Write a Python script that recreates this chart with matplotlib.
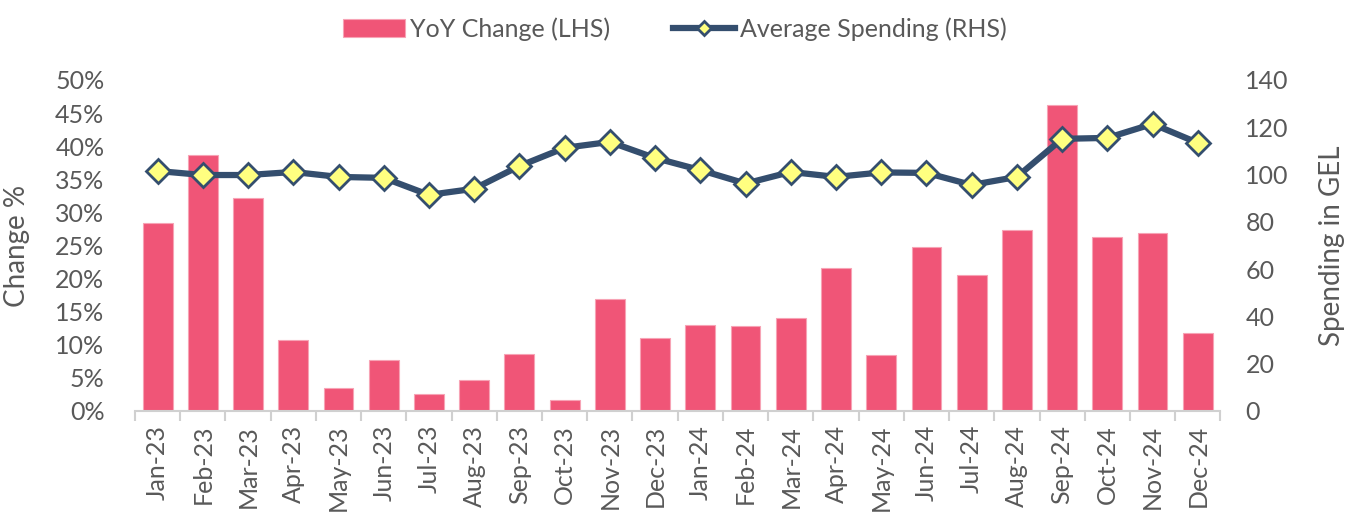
import matplotlib.pyplot as plt
import numpy as np
from matplotlib.ticker import FuncFormatter, MultipleLocator

months = ['Jan-23', 'Feb-23', 'Mar-23', 'Apr-23', 'May-23', 'Jun-23',
          'Jul-23', 'Aug-23', 'Sep-23', 'Oct-23', 'Nov-23', 'Dec-23',
          'Jan-24', 'Feb-24', 'Mar-24', 'Apr-24', 'May-24', 'Jun-24',
          'Jul-24', 'Aug-24', 'Sep-24', 'Oct-24', 'Nov-24', 'Dec-24']

yoy_change = [28.4, 38.7, 32.2, 10.7, 3.5, 7.7, 2.6, 4.7, 8.6, 1.7, 16.9, 11.0,
              13.0, 12.8, 14.0, 21.6, 8.5, 24.8, 20.5, 27.3, 46.2, 26.3, 26.9, 11.8]

avg_spending = [101.5, 99.8, 99.8, 101.1, 99.0, 98.6, 91.4, 94.0, 103.6, 111.3, 113.8, 107.0,
                101.9, 96.2, 101.1, 99.0, 100.9, 100.7, 95.6, 99.0, 115.1, 115.5, 121.4, 113.4]

plt.rcParams['font.family'] = ['Lato', 'DejaVu Sans']
grey = '#595959'

fig = plt.figure(figsize=(13.5, 5.18), dpi=100)
ax = fig.add_axes([0.1, 0.2066, 0.804, 0.639])
ax2 = ax.twinx()

x = np.arange(len(months))
ax.bar(x, yoy_change, 0.66, color='#F05577', edgecolor='#F7A3B5', linewidth=0.8,
       label='YoY Change (LHS)', zorder=2)
ax2.plot(x, avg_spending, color='#344E6E', linewidth=4.5, marker='D', markersize=12,
         markerfacecolor='#FFFF80', markeredgecolor='#344E6E', markeredgewidth=2,
         label='Average Spending (RHS)', zorder=3)

ax.set_xlim(-0.5, len(months) - 0.5)
ax.set_ylim(0, 50)
ax2.set_ylim(0, 140)
ax.yaxis.set_major_locator(MultipleLocator(5))
ax.yaxis.set_major_formatter(FuncFormatter(lambda v, p: f'{v:.0f}%'))
ax2.yaxis.set_major_locator(MultipleLocator(20))

ax.set_xticks(x)
ax.set_xticklabels(months, rotation=90, fontsize=18, color=grey)
ax.set_xticks(np.arange(-0.5, len(months)), minor=True)
ax.tick_params(axis='x', which='major', length=0, pad=10)
ax.tick_params(axis='x', which='minor', length=7, color='#D0D0D0', width=1.5)
ax.tick_params(axis='y', length=0, labelsize=18, labelcolor=grey, pad=22)
ax2.tick_params(axis='y', length=0, labelsize=18, labelcolor=grey, pad=18)

for a in (ax, ax2):
    for s in ['top', 'left', 'right']:
        a.spines[s].set_visible(False)
ax.spines['bottom'].set_color('#D0D0D0')
ax.spines['bottom'].set_linewidth(1.5)
ax2.spines['bottom'].set_visible(False)

ax.set_ylabel('Change %', fontsize=20, color=grey, labelpad=18)
ax2.set_ylabel('Spending in GEL', fontsize=20, color=grey, labelpad=22)

h1, l1 = ax.get_legend_handles_labels()
h2, l2 = ax2.get_legend_handles_labels()
fig.legend(h1 + h2, l1 + l2, loc='upper center', bbox_to_anchor=(0.5, 1.01), ncol=2,
           frameon=False, fontsize=18, labelcolor=grey, handlelength=2.5,
           handletextpad=0.2, columnspacing=2.5, markerscale=0.6)

fig.savefig('out.png', dpi=100)
